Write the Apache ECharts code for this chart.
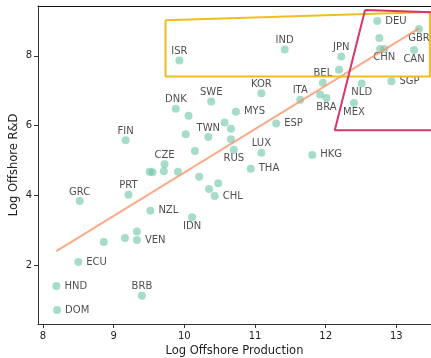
<!DOCTYPE html>
<html>
<head>
<meta charset="utf-8">
<script src="https://cdn.jsdelivr.net/npm/echarts@6/dist/echarts.min.js"></script>
<style>
  html, body { margin: 0; padding: 0; background: #fff; }
  #chart { width: 431px; height: 358px; }
</style>
</head>
<body>
<div id="chart"></div>
<script>
// labelled countries
const countries = ['ISR', 'IND', 'JPN', 'DEU', 'GBR', 'CHN', 'CAN', 'SGP', 'NLD', 'MEX', 'BRA', 'BEL',
  'ITA', 'KOR', 'SWE', 'DNK', 'MYS', 'TWN', 'ESP', 'LUX', 'RUS', 'THA', 'HKG', 'FIN', 'CZE', 'CHL',
  'GRC', 'PRT', 'NZL', 'IDN', 'VEN', 'ECU', 'HND', 'DOM', 'BRB']
const production = [9.93, 11.42, 12.22, 12.73, 13.32, 12.83, 13.25, 12.93, 12.51, 12.40, 12.01, 11.96,
  11.64, 11.09, 10.38, 9.88, 10.73, 10.34, 11.30, 11.09, 10.70, 10.94, 11.81, 9.17, 9.72, 10.43,
  8.52, 9.21, 9.52, 10.11, 9.33, 8.50, 8.19, 8.20, 9.40]
const rnd = [7.87, 8.18, 7.98, 9.00, 8.77, 8.20, 8.17, 7.27, 7.21, 6.65, 6.79, 7.23,
  6.74, 6.93, 6.69, 6.48, 6.40, 5.67, 6.06, 5.22, 5.31, 4.76, 5.16, 5.58, 4.89, 3.98,
  3.84, 4.02, 3.56, 3.37, 2.72, 2.09, 1.40, 0.71, 1.12]

// points without a label
const otherProduction = [12.19, 12.76, 12.77, 11.92, 10.06, 10.02, 10.57, 10.66, 10.66, 10.15,
  9.51, 9.55, 9.71, 9.91, 10.21, 10.48, 10.35, 8.86, 9.16, 9.33]
const otherRnd = [7.60, 8.51, 8.20, 6.89, 6.28, 5.75, 6.09, 5.91, 5.61, 5.27,
  4.68, 4.66, 4.69, 4.68, 4.53, 4.35, 4.18, 2.66, 2.78, 2.96]

// fitted line end points
const fitX = [8.19, 13.32]
const fitY = [2.40, 8.79]

// highlighted regions
const boxX = [9.734, 13.475, 13.475, 9.734, 9.734]
const boxY = [9.02, 9.26, 7.41, 7.41, 9.02]
const wedgeX = [12.557, 13.6, 13.6, 12.129, 12.557]
const wedgeY = [9.314, 9.24, 5.87, 5.87, 9.314]

const xTicks = [8, 9, 10, 11, 12, 13]
const yTicks = [2, 4, 6, 8]

const labelPos = {
  ISR: 'top', IND: 'top', JPN: 'top', DEU: 'right', GBR: 'bottom', CHN: 'bottom', CAN: 'bottom',
  SGP: 'right', NLD: 'bottom', MEX: 'bottom', BRA: 'bottom', BEL: 'top', ITA: 'top', KOR: 'top',
  SWE: 'top', DNK: 'top', MYS: 'right', TWN: 'top', ESP: 'right', LUX: 'top', RUS: 'bottom',
  THA: 'right', HKG: 'right', FIN: 'top', CZE: 'top', CHL: 'right', GRC: 'top', PRT: 'top',
  NZL: 'right', IDN: 'bottom', VEN: 'right', ECU: 'right', HND: 'right', DOM: 'right', BRB: 'top',
}

const FONT = 'DejaVu Sans'
const TEXT = '#222'
const POINT = 'rgba(102,194,165,0.72)'
const pair = (xs, ys) => xs.map((x, i) => [x, ys[i]])

const chart = echarts.init(document.getElementById('chart'), null, { renderer: 'canvas' })

const axisBase = {
  axisLine: { show: true, lineStyle: { color: '#333', width: 1 } },
  axisTick: { show: true, length: 4, lineStyle: { color: '#333' } },
  splitLine: { show: false },
}

chart.setOption({
  backgroundColor: '#fff',
  animation: false,
  grid: { left: 38, right: 0, top: 6, bottom: 34, containLabel: false, outerBoundsMode: 'none' },
  xAxis: [
    {
      ...axisBase,
      type: 'value',
      min: 7.93,
      max: 13.49,
      name: 'Log Offshore Production',
      nameLocation: 'middle',
      nameGap: 21,
      nameMoveOverlap: false,
      nameTextStyle: { fontFamily: FONT, fontSize: 11.5, color: TEXT },
      axisTick: { ...axisBase.axisTick, customValues: xTicks },
      axisLabel: { customValues: xTicks, fontFamily: FONT, fontSize: 10, color: TEXT, margin: 7 },
    },
    {
      type: 'value',
      position: 'top',
      min: 7.93,
      max: 13.49,
      axisLine: { show: true, lineStyle: { color: '#111', width: 1 } },
      axisTick: { show: false },
      axisLabel: { show: false },
      splitLine: { show: false },
    },
  ],
  yAxis: {
    ...axisBase,
    type: 'value',
    min: 0.31,
    max: 9.43,
    name: 'Log Offshore R&D',
    nameLocation: 'middle',
    nameGap: 18,
    nameMoveOverlap: false,
    nameTextStyle: { fontFamily: FONT, fontSize: 11.5, color: TEXT },
    axisTick: { ...axisBase.axisTick, customValues: yTicks },
    axisLabel: { customValues: yTicks, fontFamily: FONT, fontSize: 10, color: TEXT, margin: 6 },
  },
  series: [
    {
      type: 'scatter',
      symbolSize: 8,
      itemStyle: { color: POINT },
      data: pair(otherProduction, otherRnd),
      z: 2,
    },
    {
      type: 'scatter',
      symbolSize: 8,
      itemStyle: { color: POINT },
      data: countries.map((c, i) => ({
        name: c,
        value: [production[i], rnd[i]],
        label: {
          show: true,
          formatter: c,
          position: labelPos[c],
          distance: labelPos[c] === 'right' ? 4 : 0,
          fontFamily: FONT,
          fontSize: 10,
          color: TEXT,
        },
      })),
      z: 2,
    },
    {
      type: 'line',
      data: pair(fitX, fitY),
      showSymbol: false,
      lineStyle: { color: '#fc8d62', width: 2, opacity: 0.75 },
      z: 3,
    },
    {
      type: 'line',
      data: pair(boxX, boxY),
      showSymbol: false,
      clip: true,
      lineStyle: { color: '#f0be1c', width: 2 },
      z: 4,
    },
    {
      type: 'line',
      data: pair(wedgeX, wedgeY),
      showSymbol: false,
      clip: true,
      lineStyle: { color: '#d3376b', width: 2 },
      z: 4,
    },
  ],
})
</script>
</body>
</html>
